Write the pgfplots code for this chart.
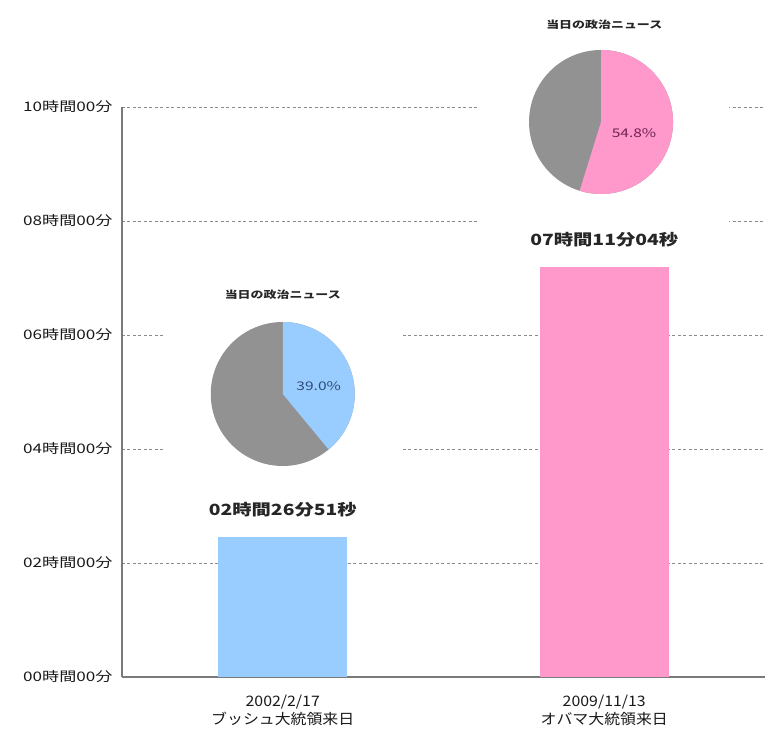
\documentclass[border=0pt]{standalone}
\usepackage{pgfplots}
\pgfplotsset{compat=1.18}
\usepackage{fontspec}
\setmainfont{Noto Sans CJK JP}
\newfontfamily\tickf{Noto Sans CJK JP}[FakeStretch=1.3]
\newfontfamily\xlabf{Noto Sans CJK JP}[FakeStretch=1.1]
\newfontfamily\valf{Noto Sans CJK JP}[FakeStretch=1.25]

\definecolor{barblue}{HTML}{99CCFF}
\definecolor{barpink}{HTML}{FF99CC}
\definecolor{piegray}{HTML}{929292}
\definecolor{gridgray}{HTML}{8A8A8A}
\definecolor{axisgray}{HTML}{7A7A7A}
\definecolor{lblblue}{HTML}{2E4C78}
\definecolor{lblpink}{HTML}{6E2250}

% share of political news on the day (percent)
\def\pieA{39.0}
\def\pieB{54.8}

\begin{document}
\begin{tikzpicture}
\begin{axis}[
  scale only axis,
  width=643bp, height=570bp,
  xmin=-0.5, xmax=1.5,
  ymin=0, ymax=10,
  clip=false,
  axis x line*=bottom,
  axis y line*=left,
  axis line style={axisgray, line width=1.6bp},
  major tick length=0pt,
  ytick={0,2,4,6,8,10},
  yticklabels={00時間00分,02時間00分,04時間00分,06時間00分,08時間00分,10時間00分},
  yticklabel style={font=\tickf\fontsize{13.2}{15}\selectfont, color=black!90, xshift=-6bp},
  xtick={0,1},
  xticklabels={{2002/2/17\\ブッシュ大統領来日},{2009/11/13\\オバマ大統領来日}},
  xticklabel style={font=\xlabf\fontsize{14.5}{18}\selectfont, align=center, color=black!90, yshift=-15bp},
  ymajorgrids,
  grid style={gridgray, line width=0.9bp, dash pattern=on 3bp off 2.5bp},
  bar width=0.4,
  nodes near coords={\pgfplotspointmeta},
  point meta=explicit symbolic,
  nodes near coords style={font=\valf\bfseries\fontsize{15.5}{17}\selectfont, color=black!85, anchor=center, yshift=28bp},
]
\addplot[ybar, fill=barblue, draw=none] coordinates {(0,2.4475) [02時間26分51秒]};
\addplot[ybar, fill=barpink, draw=none] coordinates {(1,7.1844) [07時間11分04秒]};

% white panels behind the pies break the grid lines
\fill[white] (axis cs:-0.37,2.9) rectangle (axis cs:0.375,6.9);
\fill[white] (axis cs:0.613,7.6) rectangle (axis cs:1.387,10.6);

% pie: Bush
\fill[piegray] (axis cs:0,4.965) circle[radius=72bp];
\fill[barblue] (axis cs:0,4.965) -- ++(90:72bp) arc[start angle=90, end angle={90-3.6*\pieA}, radius=72bp] -- cycle;
\node[font=\tickf\fontsize{12}{14}\selectfont, color=lblblue] at ([xshift=36bp,yshift=8bp]axis cs:0,4.965) {39.0\%};
\node[font=\tickf\bfseries\fontsize{10}{12}\selectfont, color=black!85] at (axis cs:0,6.70) {当日の政治ニュース};

% pie: Obama
\fill[piegray] (axis cs:0.99,9.737) circle[radius=72bp];
\fill[barpink] (axis cs:0.99,9.737) -- ++(90:72bp) arc[start angle=90, end angle={90-3.6*\pieB}, radius=72bp] -- cycle;
\node[font=\tickf\fontsize{12}{14}\selectfont, color=lblpink] at ([xshift=33bp,yshift=-11bp]axis cs:0.99,9.737) {54.8\%};
\node[font=\tickf\bfseries\fontsize{10}{12}\selectfont, color=black!85] at (axis cs:1.0,11.44) {当日の政治ニュース};

\coordinate (O) at (rel axis cs:0,0);
\end{axis}
\pgfresetboundingbox
\path (O) ++(-122bp,-61bp) rectangle ++(775bp,738bp);
\end{tikzpicture}
\end{document}
